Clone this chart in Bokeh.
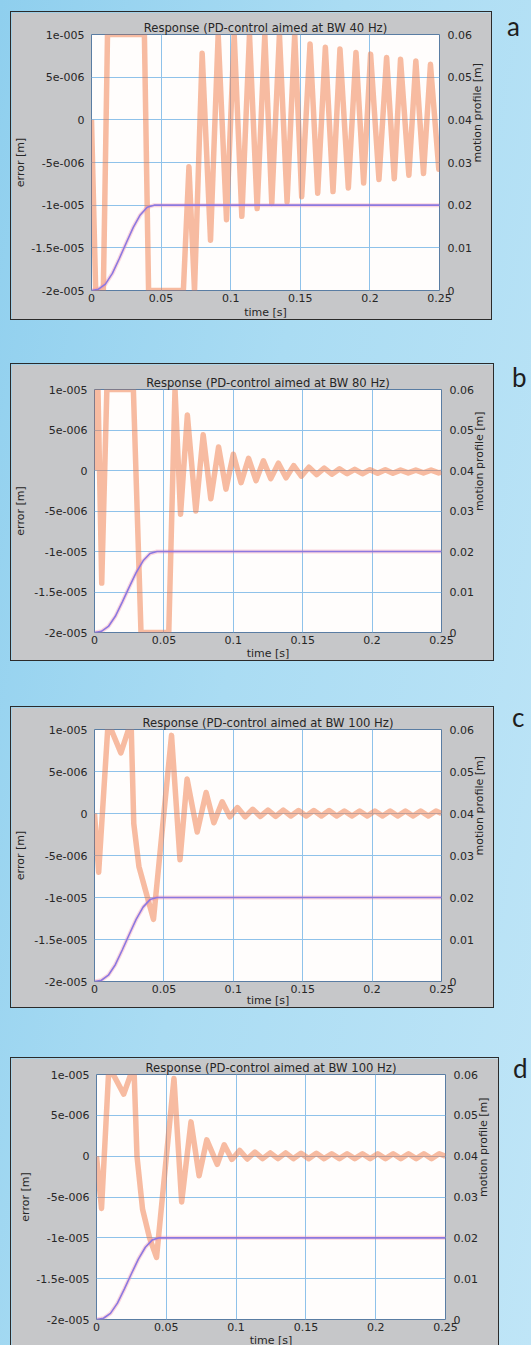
import math
from bokeh.plotting import figure
from bokeh.models import Range1d, LinearAxis, FixedTicker, Div, Spacer
from bokeh.layouts import column, row
from bokeh.embed import file_html
from bokeh.resources import INLINE

# ---------------- data ----------------
titles = ["Response (PD-control aimed at BW 40 Hz)",
          "Response (PD-control aimed at BW 80 Hz)",
          "Response (PD-control aimed at BW 100 Hz)",
          "Response (PD-control aimed at BW 100 Hz)"]
letters = ["a", "b", "c", "d"]
x_title = "time [s]"
y_title = "error [m]"
y2_title = "motion profile [m]"

time_ticks = [0, 0.05, 0.1, 0.15, 0.2, 0.25]
time_labels = ["0", "0.05", "0.1", "0.15", "0.2", "0.25"]
error_ticks = [1e-5, 5e-6, 0, -5e-6, -1e-5, -1.5e-5, -2e-5]
error_labels = ["1e-005", "5e-006", "0", "-5e-006", "-1e-005", "-1.5e-005", "-2e-005"]
profile_ticks = [0, 0.01, 0.02, 0.03, 0.04, 0.05, 0.06]
profile_labels = ["0", "0.01", "0.02", "0.03", "0.04", "0.05", "0.06"]

profile_t = [0.0, 0.005, 0.010, 0.015, 0.020, 0.025, 0.030, 0.035, 0.040, 0.045, 0.050, 0.25]
profile_m = [0.0, 0.0003, 0.0015, 0.0040, 0.0075, 0.0112, 0.0148, 0.0177, 0.0195, 0.0200, 0.0200, 0.0200]

err_a_t = [0.0, 0.003, 0.0085, 0.0115, 0.038, 0.041, 0.066, 0.070, 0.074, 0.0795, 0.0855,
           0.091, 0.097, 0.1025, 0.108, 0.1135, 0.119, 0.1245, 0.1295, 0.135, 0.1405, 0.146,
           0.151, 0.157, 0.1625, 0.168, 0.1735, 0.1785, 0.1845, 0.19, 0.1955, 0.2005, 0.2065,
           0.212, 0.2175, 0.222, 0.228, 0.233, 0.2385, 0.2435, 0.2495, 0.25]
err_a_m = [0.0, -2e-5, -2e-5, 1e-5, 1e-5, -2e-5, -2e-5, -5.5e-6, -2e-5, 7.8e-6, -1.41e-5,
           1e-5, -1.17e-5, 1e-5, -1.13e-5, 1e-5, -1.04e-5, 1e-5, -9.8e-6, 1e-5, -9.6e-6, 1e-5,
           -9.0e-6, 8.9e-6, -8.6e-6, 8.5e-6, -8.4e-6, 8.3e-6, -8.0e-6, 7.9e-6, -7.4e-6, 7.7e-6,
           -7.0e-6, 7.3e-6, -6.9e-6, 7.1e-6, -6.5e-6, 6.9e-6, -6.3e-6, 6.5e-6, -5.8e-6, -5.5e-6]

err_b_t = [0.0, 0.0015, 0.0025, 0.0052, 0.0089, 0.028, 0.0335, 0.0535, 0.058, 0.062, 0.0669,
           0.073, 0.0783, 0.0838, 0.0894, 0.0947, 0.100, 0.1056, 0.111, 0.1164, 0.1217, 0.127,
           0.1325, 0.138, 0.1435, 0.149, 0.1545, 0.160, 0.1655, 0.171, 0.1765, 0.182, 0.1875,
           0.193, 0.1985, 0.204, 0.2095, 0.215, 0.2205, 0.226, 0.2315, 0.237, 0.2425, 0.248, 0.25]
err_b_m = [0.0, 1e-5, 1e-5, -1.39e-5, 1e-5, 1e-5, -2e-5, -2e-5, 1e-5, -5.4e-6, 6.85e-6,
           -5.0e-6, 4.4e-6, -3.5e-6, 2.9e-6, -2.3e-6, 2.0e-6, -1.5e-6, 1.5e-6, -1.25e-6, 1.2e-6,
           -1.0e-6, 0.9e-6, -0.9e-6, 0.6e-6, -0.7e-6, 0.4e-6, -0.5e-6, 0.3e-6, -0.45e-6, 0.2e-6,
           -0.4e-6, 0.15e-6, -0.4e-6, 0.1e-6, -0.35e-6, 0.1e-6, -0.35e-6, 0.05e-6, -0.3e-6,
           0.05e-6, -0.3e-6, 0.05e-6, -0.3e-6, -0.2e-6]

err_c_t = [0.0, 0.003, 0.0095, 0.012, 0.019, 0.0245, 0.0265, 0.0283, 0.032, 0.038, 0.0425,
           0.0555, 0.0616, 0.0667, 0.074, 0.0804, 0.086, 0.092, 0.0975, 0.103, 0.1085, 0.114,
           0.1195, 0.125, 0.1305, 0.136, 0.1415, 0.147, 0.1525, 0.158, 0.1635, 0.169, 0.1745,
           0.18, 0.1855, 0.191, 0.1965, 0.202, 0.2075, 0.213, 0.2185, 0.224, 0.2295, 0.235,
           0.2405, 0.246, 0.25]
err_c_m = [0.0, -7.0e-6, 1e-5, 1e-5, 7.2e-6, 1e-5, 1e-5, -1.2e-6, -6.3e-6, -9.9e-6, -1.26e-5,
           9.3e-6, -5.5e-6, 4.1e-6, -2.2e-6, 2.5e-6, -1.1e-6, 1.4e-6, -0.4e-6, 0.7e-6, -0.4e-6,
           0.5e-6, -0.35e-6, 0.4e-6, -0.35e-6, 0.4e-6, -0.3e-6, 0.35e-6, -0.3e-6, 0.35e-6,
           -0.3e-6, 0.35e-6, -0.3e-6, 0.3e-6, -0.3e-6, 0.3e-6, -0.3e-6, 0.3e-6, -0.3e-6, 0.3e-6,
           -0.3e-6, 0.3e-6, -0.3e-6, 0.3e-6, -0.3e-6, 0.3e-6, 0.0]

err_d_t = [0.0, 0.0036, 0.0086, 0.012, 0.0195, 0.0245, 0.027, 0.029, 0.033, 0.038, 0.043,
           0.0555, 0.061, 0.0677, 0.0735, 0.079, 0.0865, 0.0915, 0.097, 0.1025, 0.108, 0.1135,
           0.119, 0.1245, 0.13, 0.1355, 0.141, 0.1465, 0.152, 0.1575, 0.163, 0.1685, 0.174,
           0.1795, 0.185, 0.1905, 0.196, 0.2015, 0.207, 0.2125, 0.218, 0.2235, 0.229, 0.2345,
           0.24, 0.2455, 0.25]
err_d_m = [0.0, -6.4e-6, 1e-5, 1e-5, 7.6e-6, 1e-5, 1e-5, 0.0, -6.5e-6, -1.0e-5, -1.24e-5,
           9.5e-6, -5.6e-6, 4.2e-6, -2.4e-6, 2.0e-6, -1.0e-6, 1.4e-6, -0.4e-6, 0.7e-6, -0.35e-6,
           0.5e-6, -0.3e-6, 0.4e-6, -0.3e-6, 0.4e-6, -0.3e-6, 0.35e-6, -0.3e-6, 0.35e-6,
           -0.3e-6, 0.3e-6, -0.3e-6, 0.3e-6, -0.3e-6, 0.3e-6, -0.3e-6, 0.3e-6, -0.3e-6, 0.3e-6,
           -0.3e-6, 0.3e-6, -0.3e-6, 0.3e-6, -0.3e-6, 0.3e-6, 0.0]

errors = [(err_a_t, err_a_m), (err_b_t, err_b_m), (err_c_t, err_c_m), (err_d_t, err_d_m)]

# ---------------- layout (page pixel geometry; page body has no margin) ----------------
# box: (left, top, right, bottom), frame: (left, top, right, bottom)
boxes = [(10, 11, 492, 319), (10, 362, 494, 659), (10, 704, 494, 1005), (10, 1054, 499, 1345)]
frames = [(91, 34, 437, 288), (94, 388, 439, 629), (94, 727, 439, 977), (96, 1069, 443, 1312)]
x_label_standoff = [1, 0, -2, 0]
y_label_standoff = [1, 4, 4, 1]
letter_pos = [(15, -3), (18, -4), (18, -7), (14, -7)]

FONT = "DejaVu Sans"
GRAY = "#c6c7c9"
TXT = "#262626"


def make_panel(i):
    bx0, by0, bx1, by1 = boxes[i]
    fx0, fy0, fx1, fy1 = frames[i]
    p = figure(frame_width=fx1 - fx0, frame_height=fy1 - fy0,
               min_border_left=fx0 - bx0 - 1, min_border_right=bx1 - fx1 - 1,
               min_border_top=fy0 - by0 - 1, min_border_bottom=by1 - fy1 - 1,
               x_range=Range1d(0, 0.25), y_range=Range1d(-2e-5, 1e-5),
               output_backend="svg", toolbar_location=None,
               background_fill_color="#fffdfc", border_fill_color=GRAY,
               styles={"border": "1px solid #2b2b2b"})
    p.title.text = titles[i]
    p.title.align = "center"
    p.title.text_font = FONT
    p.title.text_font_size = "11.6px"
    p.title.text_font_style = "normal"
    p.title.text_color = TXT
    p.title.standoff = 0
    p.outline_line_color = "#5a7da3"
    p.outline_line_width = 1

    p.extra_y_ranges = {"profile": Range1d(0, 0.06)}
    right = LinearAxis(y_range_name="profile")
    p.add_layout(right, "right")

    for ax in p.xaxis + p.yaxis:
        ax.axis_line_color = None
        ax.major_tick_line_color = None
        ax.minor_tick_line_color = None
        ax.major_tick_out = 0
        ax.major_tick_in = 0
        ax.minor_tick_out = 0
        ax.minor_tick_in = 0
        ax.major_label_text_font = FONT
        ax.major_label_text_font_size = "11px"
        ax.major_label_text_color = TXT
        ax.axis_label_text_font = FONT
        ax.axis_label_text_font_size = "11px"
        ax.axis_label_text_font_style = "normal"
        ax.axis_label_text_color = TXT

    p.xaxis.ticker = FixedTicker(ticks=time_ticks)
    p.xaxis.major_label_overrides = dict(zip(time_ticks, time_labels))
    p.xaxis.major_label_standoff = 3
    p.xaxis.axis_label = x_title
    p.xaxis.axis_label_standoff = x_label_standoff[i]

    left = p.yaxis[0]
    left.ticker = FixedTicker(ticks=error_ticks)
    left.major_label_overrides = dict(zip(error_ticks, error_labels))
    left.major_label_standoff = 7
    left.axis_label = y_title
    left.axis_label_standoff = y_label_standoff[i]

    right.ticker = FixedTicker(ticks=profile_ticks)
    right.major_label_overrides = dict(zip(profile_ticks, profile_labels))
    right.major_label_standoff = 8
    right.axis_label = y2_title
    right.axis_label_standoff = 3
    try:
        right.axis_label_orientation = math.pi / 2
    except Exception:
        pass

    p.xgrid.ticker = FixedTicker(ticks=time_ticks)
    p.ygrid.ticker = FixedTicker(ticks=error_ticks)
    for g in (p.xgrid[0], p.ygrid[0]):
        g.grid_line_color = "#8fc2ea"
        g.grid_line_width = 1

    et, em = errors[i]
    p.line(et, em, line_color="#f07a45", line_alpha=0.5, line_width=5.5, line_join="round")
    p.line(profile_t, profile_m, y_range_name="profile", line_color="#f08aa8",
           line_alpha=0.35, line_width=4)
    p.line(profile_t, profile_m, y_range_name="profile", line_color="#8c78e0",
           line_width=1.6)
    return p


rows = []
prev_bottom = 0
for i in range(4):
    bx0, by0, bx1, by1 = boxes[i]
    p = make_panel(i)
    lx, ly = letter_pos[i]
    letter = Div(text=('<span style="position:relative; left:%dpx; top:%dpx; '
                       'font-family:Lato; font-size:26px; color:#1e1e1e;">%s</span>')
                 % (lx, ly, letters[i]),
                 width=531 - bx1, height=40, margin=0)
    rows.append(Spacer(height=by0 - prev_bottom, width=10))
    rows.append(row(Spacer(width=bx0, height=10), p, letter, spacing=0))
    prev_bottom = by1

layout = column(*rows, spacing=0)

html = file_html(layout, INLINE, title="PD-control responses")
html = html.replace("</head>",
                    "<style>html{background:linear-gradient(100deg,#8fcfee 0%,#aadcf3 45%,#bfe5f7 100%);"
                    "min-height:100%;} body{background:transparent;}</style></head>", 1)
open("out.html", "w").write(html)
